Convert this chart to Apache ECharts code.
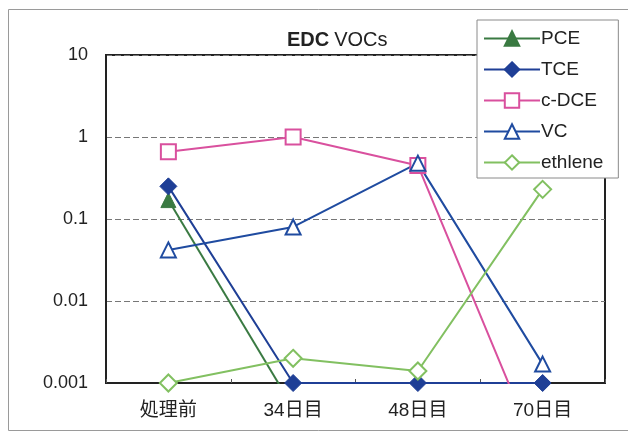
<!DOCTYPE html>
<html>
<head>
<meta charset="utf-8">
<script src="https://cdn.jsdelivr.net/npm/echarts@6/dist/echarts.min.js"></script>
<style>
  html, body { margin: 0; padding: 0; background: #fff; }
  #chart { width: 628px; height: 434px; }
</style>
</head>
<body>
<div id="chart"></div>
<script>
// Sampling days
const categories = ['処理前', '34日目', '48日目', '70日目'];

// Concentrations (log scale); values below 0.001 run off the bottom of the plot
const pce     = [0.17, 0.0005, null, null];
const tce     = [0.25, 0.001, 0.001, 0.001];
const cDce    = [0.66, 1.0, 0.45, 0.0001];
const vc      = [0.042, 0.08, 0.48, 0.0017];
const ethlene = [0.001, 0.002, 0.0014, 0.23];

// Tick labels for the decades 0.001 .. 10
const yTickLabels = ['0.001', '0.01', '0.1', '1', '10'];

const FONT = '"Liberation Sans", Arial, "Noto Sans CJK JP", sans-serif';

const chart = echarts.init(document.getElementById('chart'), null, { renderer: 'canvas' });

function lineSeries(name, data, color, symbol, size, filled) {
  return {
    name: name,
    type: 'line',
    data: data,
    symbol: symbol,
    symbolSize: size,
    showAllSymbol: true,
    clip: true,
    connectNulls: false,
    lineStyle: { color: color, width: 2 },
    itemStyle: {
      color: filled ? color : '#fff',
      borderColor: color,
      borderWidth: filled ? 1 : 2
    },
    emphasis: { disabled: true },
    z: 3
  };
}

chart.setOption({
  animation: false,
  backgroundColor: '#fff',
  textStyle: { fontFamily: FONT },
  graphic: [{
    type: 'rect',
    shape: { x: 8.5, y: 9.5, width: 640, height: 421 },
    style: { fill: 'none', stroke: '#9a9a9a', lineWidth: 1 },
    z: 0
  }],
  title: {
    text: '{b|EDC} {n|VOCs}',
    left: 282,
    top: 25,
    textStyle: {
      rich: {
        b: { fontFamily: FONT, fontSize: 20, fontWeight: 'bold', color: '#222' },
        n: { fontFamily: FONT, fontSize: 20, fontWeight: 'normal', color: '#222' }
      }
    }
  },
  legend: {
    orient: 'vertical',
    left: 477,
    top: 20,
    width: 128,
    padding: [8, 15, 5, 6],
    itemWidth: 56,
    itemHeight: 18,
    itemGap: 10,
    backgroundColor: '#fff',
    borderColor: '#8a8a8a',
    borderWidth: 1,
    textStyle: { fontFamily: FONT, fontSize: 19, lineHeight: 21, color: '#222', padding: [0, 0, 0, -4] },
    data: ['PCE', 'TCE', 'c-DCE', 'VC', 'ethlene'],
    z: 10
  },
  grid: {
    left: 106,
    right: 23,
    top: 55,
    bottom: 51,
    show: true,
    borderColor: '#222',
    borderWidth: 2,
    backgroundColor: 'transparent'
  },
  xAxis: {
    type: 'category',
    data: categories,
    boundaryGap: true,
    axisLine: { lineStyle: { color: '#222', width: 2 } },
    axisTick: { show: true, inside: true, length: 4, interval: 0, lineStyle: { color: '#555' } },
    axisLabel: { fontFamily: FONT, fontSize: 19, color: '#222', margin: 18, interval: 0 },
    splitLine: { show: false }
  },
  yAxis: {
    type: 'log',
    logBase: 10,
    min: 0.001,
    max: 10,
    axisLine: { show: true, lineStyle: { color: '#222', width: 2 } },
    axisTick: { show: false },
    axisLabel: {
      fontFamily: FONT,
      fontSize: 18,
      color: '#222',
      margin: 18,
      formatter: function (v) {
        const idx = Math.round(Math.log10(v)) + 3;
        return yTickLabels[idx] !== undefined ? yTickLabels[idx] : '';
      }
    },
    splitLine: { show: true, lineStyle: { color: '#777', type: [6, 3], width: 1 } }
  },
  series: [
    lineSeries('PCE', pce, '#3a7a42', 'triangle', 15, true),
    lineSeries('TCE', tce, '#1f3f96', 'diamond', 17, true),
    lineSeries('c-DCE', cDce, '#d9509e', 'rect', 15, false),
    lineSeries('VC', vc, '#1f4ba0', 'triangle', 15, false),
    lineSeries('ethlene', ethlene, '#82c061', 'diamond', 17, false)
  ]
});
</script>
</body>
</html>
